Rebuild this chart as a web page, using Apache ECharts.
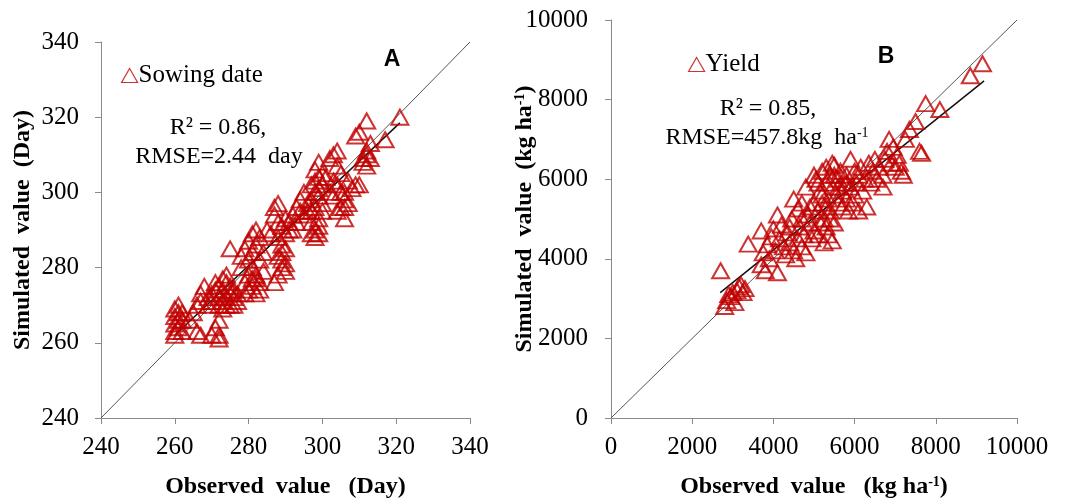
<!DOCTYPE html>
<html>
<head>
  <meta charset="utf-8">
  <script src="https://cdn.jsdelivr.net/npm/echarts@6/dist/echarts.min.js"></script>
</head>
<body style="margin:0;background:#fff">
  <div id="container" style="width:1077px;height:504px"></div>
  <script>
    // Panel A: sowing date (day of year), observed vs simulated
    var sowingPoints = [
      [260,262],[260,263],[261,264],[260,265],[261,266],[260,267],[261,268],[260,269],[261,270],[262,263],[262,266],[262,268],
      [264,266],[265,268],[267,262],[266,263],[267,271],[267,273],[268,275],[266,270],
      [270,262],[272,261],[272,262],[272,266],[271,264],
      [269,270],[269,272],[270,273],[270,271],[271,274],[271,276],[272,272],[272,275],[273,277],[273,274],[273,271],[274,278],
      [274,276],[274,272],[274,270],[275,275],[275,273],[275,270],[276,274],[276,272],[276,270],[277,273],[277,271],[272,270],[273,269],
      [275,285],
      [278,283],[279,285],[280,287],[281,289],[282,290],[283,288],[282,286],[281,284],[280,282],[281,280],[282,278],[283,276],
      [281,275],[282,273],[280,274],[279,276],[280,278],[284,284],[283,282],[284,279],[282,277],[279,273],[283,274],[281,277],[278,280],
      [285,290],[286,289],[287,296],[288,297],[287,294],[288,292],[289,291],[290,289],[290,293],[288,288],[289,286],[288,283],
      [289,282],[290,281],[289,280],[290,279],[288,278],[287,276],[289,284],[290,285],[291,290],[291,292],
      [292,294],[293,296],[294,298],[295,300],[296,297],[294,295],[293,292],[292,290],[295,294],[296,295],[297,298],
      [297,292],[298,290],[298,288],[299,289],[297,295],[298,296],[299,293],[300,295],[300,297],[299,299],[298,300],[297,289],[299,291],
      [298,306],[299,308],[298,303],[299,301],[300,302],[300,305],[301,304],[297,302],[299,304],
      [303,310],[304,311],[302,309],[304,307],[303,303],[305,300],[306,298],[305,296],[304,295],[306,293],[307,303],[308,301],
      [309,302],[302,300],[303,299],[306,300],[305,305],[304,302],[307,297],[306,296],
      [309,315],[310,316],[312,319],[313,313],[317,314],[321,320],[311,308],[312,307],[312,310],[311,309],[313,309],[310,302],[312,311]
    ];
    var sowingFit = [[260, 262], [321, 318.5]];
    var sowingOneToOne = [[240, 240], [340, 340]];
    var sowingTicks = { min: 240, max: 340, interval: 20 };

    // Panel B: yield (kg/ha), observed vs simulated
    var yieldPoints = [
      [2700,3700],[2800,2800],[2850,2950],[2950,3050],[3000,3150],[3100,3200],[3150,3300],[3200,3350],[3300,3250],[3250,3150],
      [3050,2900],[2900,3100],
      [3380,4370],[3700,4700],[3750,4150],[3700,3850],[3800,3700],[3900,4000],[3850,4350],[3950,4550],[4000,4750],[4100,5100],
      [4050,4200],[4100,3650],[4150,4500],[4200,4850],[4250,4300],[4300,4100],[4350,4650],[4400,4400],[4450,5000],[4500,4200],
      [4550,4000],[4600,4500],[4500,5500],[4600,5250],[4650,4800],[4700,4300],[4750,4600],[4800,5800],[4850,5100],[4800,4150],
      [4900,4900],[4950,4500],[5000,5400],[5000,4700],[5050,6000],[5100,5200],[5100,4600],[5150,5700],[5150,4900],[5200,6200],
      [5200,5400],[5250,4400],[5250,5000],[5300,5900],[5300,4800],[5350,4600],[5350,5500],[5400,6100],[5400,5200],[5450,4450],
      [5450,5800],[5500,6350],[5500,4900],[5550,5600],[5600,6000],[5600,5400],[5650,6200],[5700,5700],[5700,5300],[5750,5900],
      [5800,6100],[5800,5500],[5850,5200],[5900,6500],[5900,5800],[5950,5400],[6000,6200],[6000,5600],[6050,5900],[6100,5200],
      [6150,6300],[6200,5700],[6250,6000],[6300,5300],[6350,6400],[6400,5900],[6450,6200],[6500,6500],[6550,6000],[6600,6300],
      [6700,5800],[6700,6100],[6750,6500],[6800,6700],[6850,7000],[6900,6400],[6950,6800],[7000,6300],[7050,6600],[7100,6400],
      [7150,6200],[7200,6100],[7250,7000],[7350,7250],[7500,7450],[7600,6700],[7650,6650],[7750,7900],[8100,7750],[8850,8600],
      [9150,8900],
      [5200,5600],[5300,5300],[5100,5900],[4900,5300],[5400,5000],[5600,5800],[5500,6100],[4700,5000],[4400,4800],[5800,5900],
      [6100,6100],[5000,6100],[5300,6300],[5450,6400],[4700,5400]
    ];
    var yieldFit = [[2690, 3150], [9190, 8470]];
    var yieldOneToOne = [[0, 0], [10000, 10000]];
    var yieldTicks = { min: 0, max: 10000, interval: 2000 };

    var serif = 'Liberation Serif';
    var markColor = '#c00000';
    var axisGray = '#8a8a8a';

    function valueAxis(idx, ticks, name, nameGap, margin) {
      return {
        type: 'value',
        gridIndex: idx,
        min: ticks.min, max: ticks.max, interval: ticks.interval,
        name: name,
        nameLocation: 'middle',
        nameGap: nameGap,
        nameMoveOverlap: false,
        nameTextStyle: {
          fontFamily: serif, fontWeight: 'bold', fontSize: 24, color: '#000',
          rich: {
            sup: { fontFamily: serif, fontWeight: 'bold', fontSize: 14, color: '#000', verticalAlign: 'top', padding: [0, 0, 9, 0] }
          }
        },
        axisLine: { show: true, lineStyle: { color: axisGray, width: 1 } },
        axisTick: { show: true, inside: false, length: 6, lineStyle: { color: axisGray } },
        splitLine: { show: false },
        axisLabel: {
          fontFamily: serif, fontSize: 25, color: '#000', margin: margin,
          formatter: function (v) { return String(v); }
        }
      };
    }

    function scatter(name, idx, data) {
      return {
        name: name,
        type: 'scatter',
        xAxisIndex: idx, yAxisIndex: idx,
        symbol: 'triangle',
        symbolSize: [17, 15],
        itemStyle: { color: 'rgba(0,0,0,0)', borderColor: markColor, borderWidth: 2 },
        data: data,
        z: 3
      };
    }

    function line(idx, data, color, width, z) {
      return {
        type: 'line',
        xAxisIndex: idx, yAxisIndex: idx,
        data: data,
        showSymbol: false,
        symbol: 'none',
        lineStyle: { color: color, width: width },
        silent: true,
        z: z
      };
    }

    function legend(name, left, top) {
      return {
        data: [name],
        left: left, top: top,
        icon: 'triangle',
        itemWidth: 16, itemHeight: 14,
        itemStyle: { color: 'rgba(0,0,0,0)', borderColor: markColor, borderWidth: 1.2 },
        textStyle: { fontFamily: serif, fontSize: 25, color: '#000', padding: [0, 0, 0, -4] }
      };
    }

    function label(text, x, y, font) {
      return {
        type: 'text', x: x, y: y,
        style: {
          text: text, font: font || ('24px "' + serif + '"'), fill: '#000',
          align: 'center', verticalAlign: 'middle',
          rich: { sup: { fontFamily: serif, fontSize: 14, verticalAlign: 'top', padding: [0, 0, 9, 0] } }
        }
      };
    }

    var dom = document.getElementById('container');
    var myChart = echarts.init(dom, null, { renderer: 'canvas' });

    var option = {
      animation: false,
      backgroundColor: '#fff',
      grid: [
        { left: 101, top: 42, width: 369, height: 378 },
        { left: 611, top: 20, width: 406, height: 403 }
      ],
      xAxis: [
        valueAxis(0, sowingTicks, 'Observed  value   (Day)', 57, 17),
        valueAxis(1, yieldTicks, 'Observed  value   (kg ha{sup|-1})', 57, 17)
      ],
      yAxis: [
        valueAxis(0, sowingTicks, 'Simulated  value  (Day)', 66, 22),
        valueAxis(1, yieldTicks, 'Simulated  value  (kg ha{sup|-1})', 74, 23)
      ],
      legend: [
        legend('Sowing date', 116, 58),
        legend('Yield', 683, 47)
      ],
      graphic: [
        label('R² = 0.86,', 218, 128),
        label('RMSE=2.44  day', 219, 157),
        label('R² = 0.85,', 768, 109),
        label('RMSE=457.8kg  ha{sup|-1}', 767, 138),
        label('A', 392, 60, 'bold 23px "Liberation Sans"'),
        label('B', 886, 57, 'bold 23px "Liberation Sans"')
      ],
      series: [
        line(0, sowingOneToOne, '#555', 1, 1),
        line(0, sowingFit, '#111', 1.5, 2),
        scatter('Sowing date', 0, sowingPoints),
        line(1, yieldOneToOne, '#555', 1, 1),
        line(1, yieldFit, '#111', 1.5, 2),
        scatter('Yield', 1, yieldPoints)
      ]
    };

    myChart.setOption(option);
    window.addEventListener('resize', myChart.resize);
  </script>
</body>
</html>
